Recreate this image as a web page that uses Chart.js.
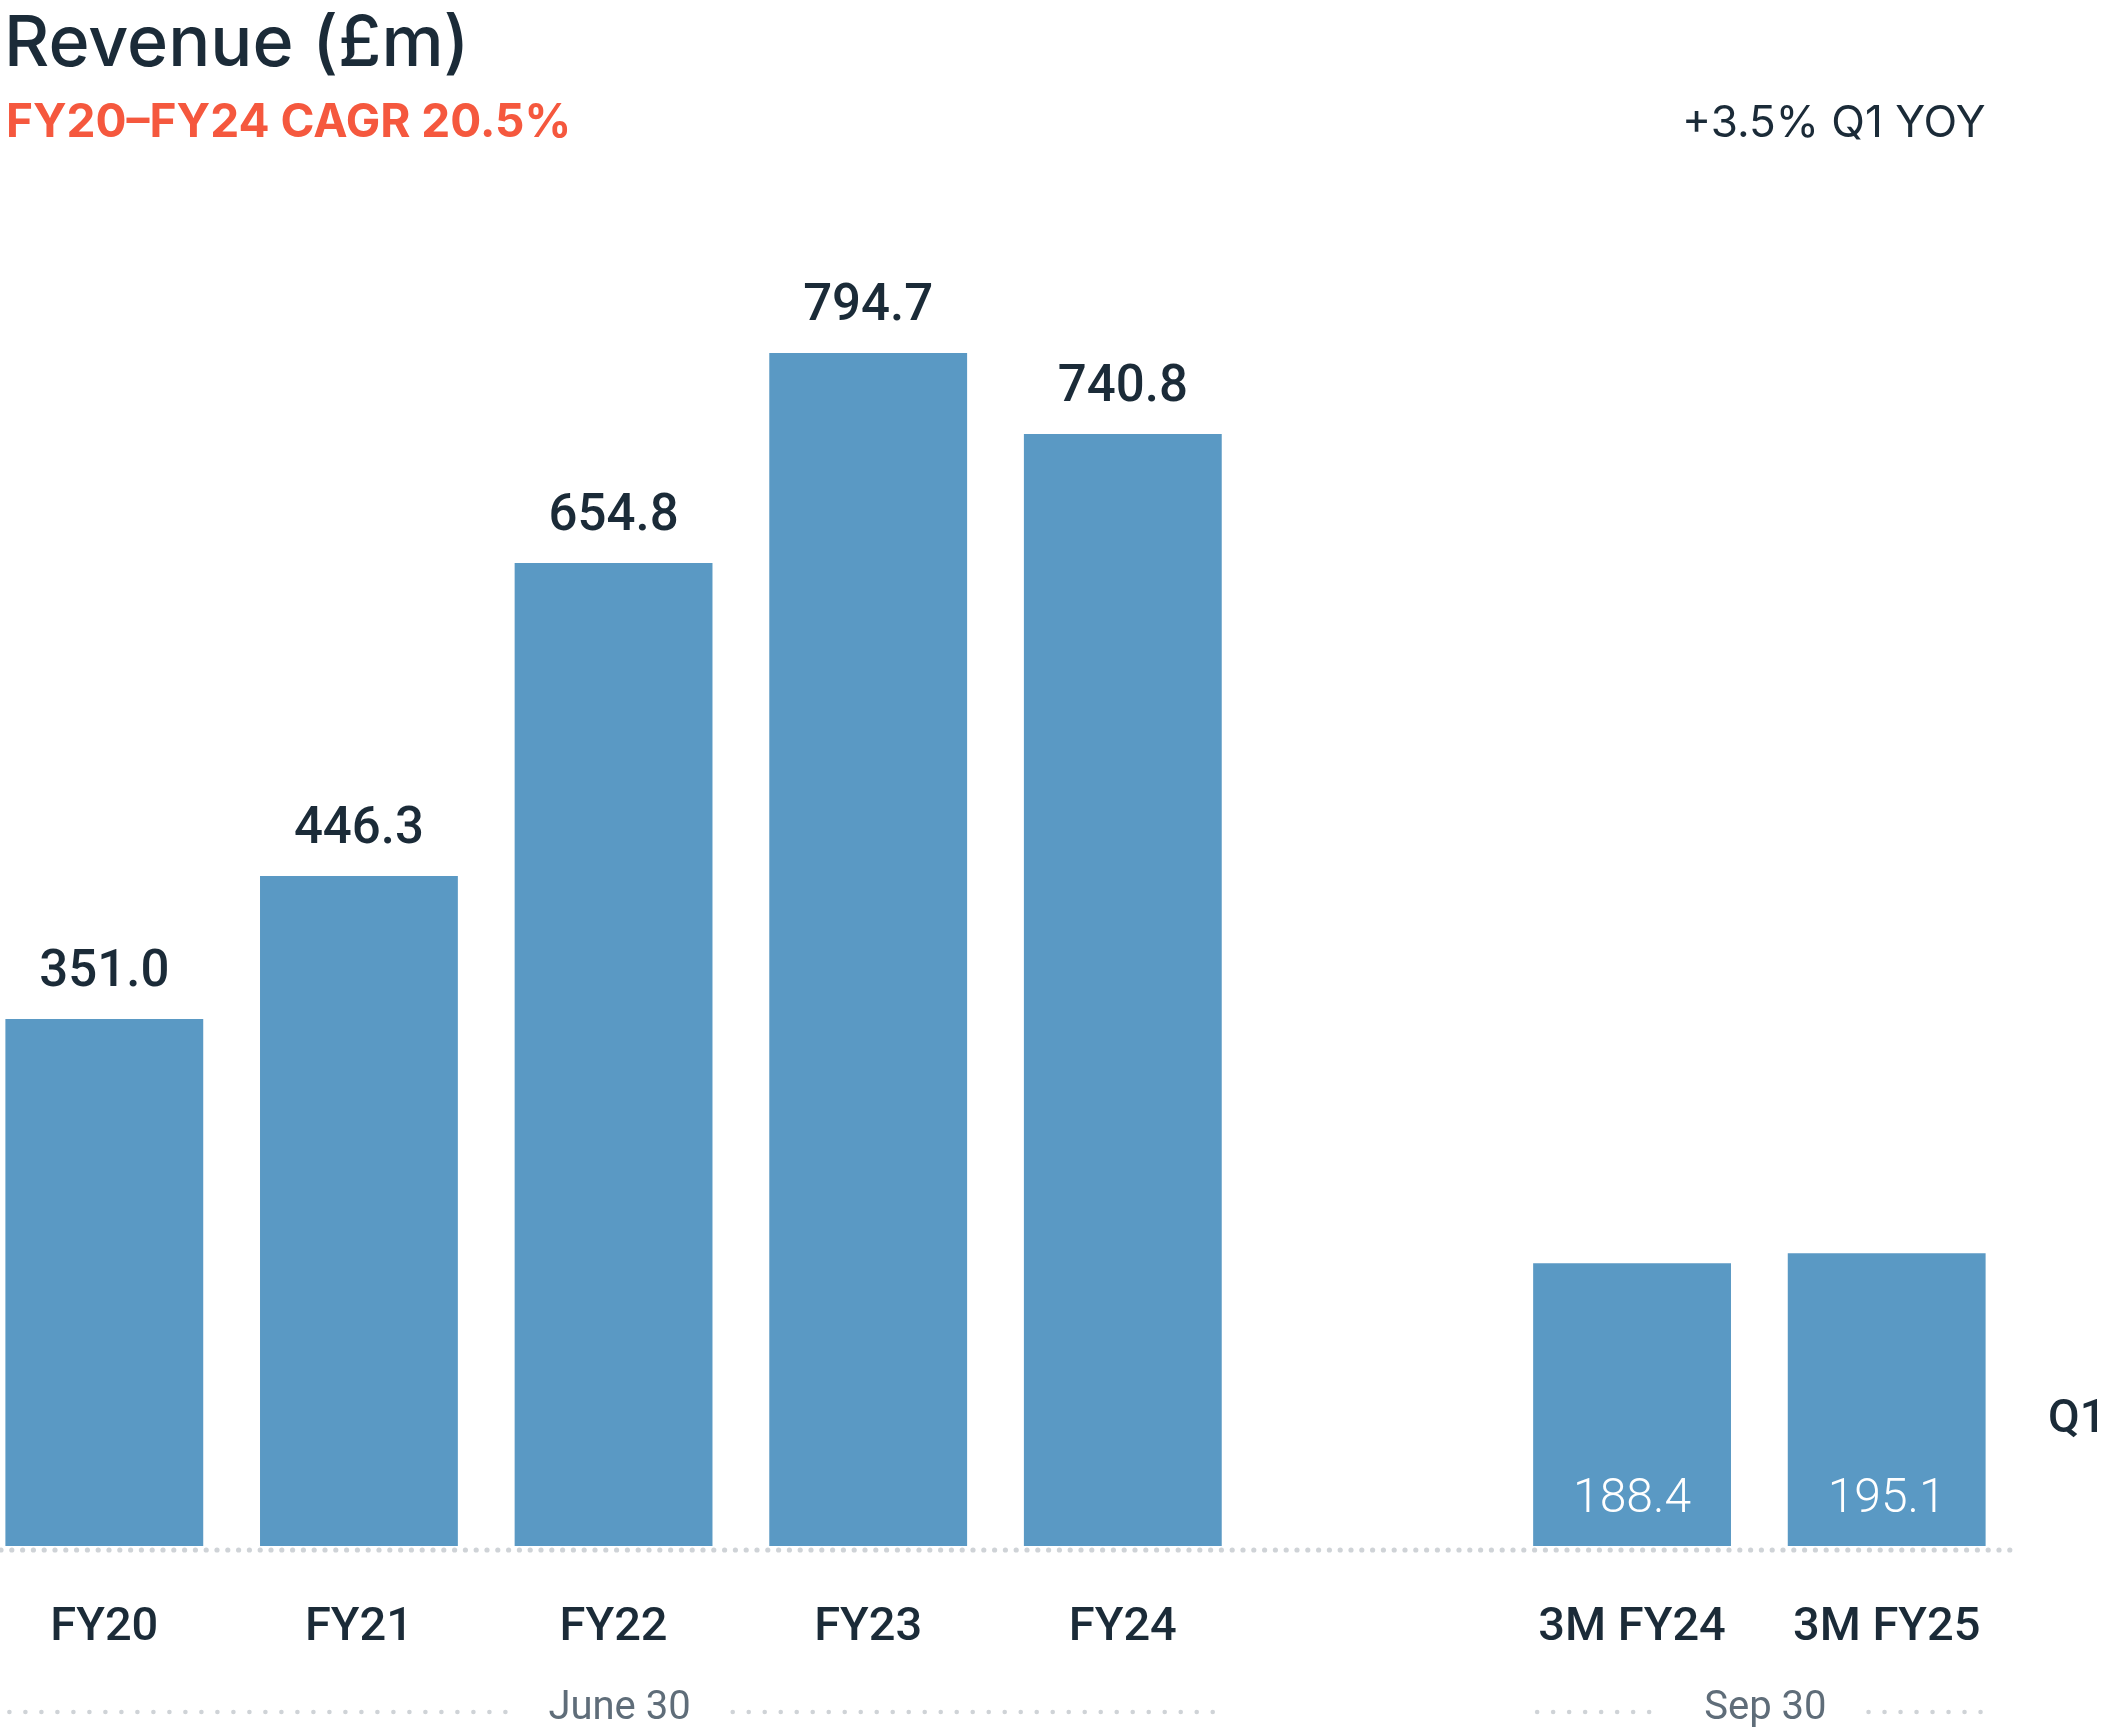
<!DOCTYPE html>
<html>
<head>
<meta charset="utf-8">
<script src="https://cdn.jsdelivr.net/npm/chart.js@4"></script>
<style>
  html, body { margin: 0; padding: 0; background: #fff; overflow: hidden; }
  #page { width: 2106px; height: 1730px; position: relative; overflow: hidden; }
  /* first slot starts left of the page edge, so the canvas is shifted */
  #wrap { position: absolute; left: -23px; top: 0; width: 2129px; height: 1730px; }
</style>
</head>
<body>
<div id="page"><div id="wrap"><canvas id="revChart"></canvas></div></div>
<script>
// data
var categories = ['FY20', 'FY21', 'FY22', 'FY23', 'FY24', '', '3M FY24', '3M FY25'];
var revenue = [351.0, 446.3, 654.8, 794.7, 740.8, null, 188.4, 195.1];
var labelInside = [false, false, false, false, false, false, true, true];
var groupNames = ['June 30', 'Sep 30'];
var groupFrom = [0, 6];
var groupTo = [4, 7];
var titleText = 'Revenue (£m)';
var subtitleText = 'FY20\u2013FY24 CAGR 20.5%';
var noteText = '+3.5% Q1 YOY';
var sideText = 'Q1';

var SHIFT = 23;
var dark = '#1b2b38';
var red = '#f5583e';
var blue = '#5a99c4';
var dotGrey = '#cfd3d7';

function dottedLine(ctx, x1, x2, y, gap, r, color) {
  ctx.fillStyle = color;
  for (var x = x1; x <= x2; x += gap) {
    ctx.beginPath();
    ctx.arc(x, y, r, 0, Math.PI * 2);
    ctx.fill();
  }
}

// labels, dotted lines and header text
var extras = {
  id: 'extras',
  afterDatasetsDraw: function (chart) {
    var ctx = chart.ctx;
    var area = chart.chartArea;
    var xs = chart.scales.x;
    var meta = chart.getDatasetMeta(0);
    ctx.save();

    // value labels
    ctx.textAlign = 'center';
    ctx.textBaseline = 'alphabetic';
    meta.data.forEach(function (bar, i) {
      if (revenue[i] == null) return;
      var txt = revenue[i].toFixed(1);
      if (labelInside[i]) {
        ctx.fillStyle = '#ffffff';
        ctx.font = '300 48px Roboto';
        ctx.fillText(txt, bar.x, area.bottom - 34);
      } else {
        ctx.fillStyle = dark;
        ctx.font = '500 51px Roboto';
        ctx.fillText(txt, bar.x, bar.y - 33);
      }
    });

    // baseline dots
    dottedLine(ctx, SHIFT + 1, area.right, area.bottom + 4, 10.8, 2.6, dotGrey);

    // period groups under the axis
    var barW = meta.data[0].width;
    ctx.font = '400 40px Roboto';
    for (var g = 0; g < groupNames.length; g++) {
      var left = xs.getPixelForValue(groupFrom[g]) - barW / 2 + 4;
      var right = xs.getPixelForValue(groupTo[g]) + barW / 2 - 2;
      var mid = (xs.getPixelForValue(groupFrom[g]) + xs.getPixelForValue(groupTo[g])) / 2 + 6;
      var tw = ctx.measureText(groupNames[g]).width;
      ctx.fillStyle = '#5f6d79';
      ctx.textAlign = 'center';
      ctx.fillText(groupNames[g], mid, 1719);
      dottedLine(ctx, left, mid - tw / 2 - 42, 1712, 16, 2.3, dotGrey);
      dottedLine(ctx, mid + tw / 2 + 42, right, 1712, 16, 2.3, dotGrey);
    }

    // header
    ctx.textAlign = 'left';
    ctx.fillStyle = dark;
    ctx.font = '500 70px Inter';
    ctx.fillText(titleText, SHIFT + 4, 66);
    ctx.fillStyle = red;
    ctx.font = '700 46px Inter';
    ctx.fillText(subtitleText, SHIFT + 6, 137);
    ctx.fillStyle = dark;
    ctx.textAlign = 'right';
    ctx.font = '400 44px Inter';
    ctx.fillText(noteText, xs.getPixelForValue(7) + barW / 2, 137);
    ctx.textAlign = 'left';
    ctx.font = '500 46px Roboto';
    ctx.fillText(sideText, area.right + 34, 1432);

    ctx.restore();
  }
};

var ctx = document.getElementById('revChart').getContext('2d');
var revChart = new Chart(ctx, {
  type: 'bar',
  data: {
    labels: categories,
    datasets: [{
      data: revenue,
      backgroundColor: blue,
      borderWidth: 0,
      barPercentage: 0.777,
      categoryPercentage: 1
    }]
  },
  options: {
    responsive: true,
    maintainAspectRatio: false,
    animation: false,
    layout: { padding: { left: 0, right: 92, top: 195, bottom: 0 } },
    plugins: { legend: { display: false }, tooltip: { enabled: false } },
    scales: {
      x: {
        grid: { display: false, drawTicks: false },
        border: { display: false },
        ticks: {
          color: dark,
          font: { family: 'Roboto', size: 47, weight: '500' },
          padding: 54,
          maxRotation: 0,
          autoSkip: false
        },
        afterFit: function (scale) { scale.height = 184; }
      },
      y: { display: false, min: 0, max: 900 }
    }
  },
  plugins: [extras]
});
</script>
</body>
</html>
